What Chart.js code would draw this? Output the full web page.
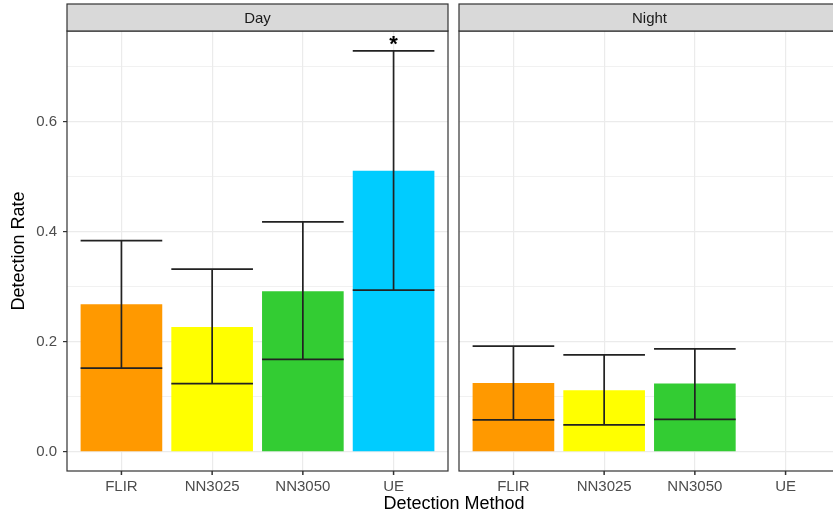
<!DOCTYPE html>
<html>
<head>
<meta charset="utf-8">
<script src="https://cdn.jsdelivr.net/npm/chart.js@4"></script>
<style>
  html, body { margin: 0; padding: 0; background: #fff; overflow: hidden; }
  #wrap { position: relative; width: 833px; height: 514px; overflow: hidden; }
  #day { position: absolute; left: 0; top: 0; }
  #night { position: absolute; left: 452px; top: 0; }
  #xtitle {
    position: absolute; left: 304px; top: 492px; width: 300px;
    text-align: center; font: 18px "Liberation Sans", Arial, sans-serif;
    line-height: 22px; color: #000;
  }
</style>
</head>
<body>
<div id="wrap">
  <canvas id="day" width="452" height="514"></canvas>
  <canvas id="night" width="392" height="514"></canvas>
  <div id="xtitle">Detection Method</div>
</div>
<script>
const methods = ["FLIR", "NN3025", "NN3050", "UE"];
const barColors = ["#FF9900", "#FFFF00", "#33CC33", "#00CCFF"];

const dayRate = [0.268, 0.227, 0.292, 0.511];
const dayLower = [0.152, 0.124, 0.168, 0.294];
const dayUpper = [0.384, 0.332, 0.418, 0.729];
const dayMarks = ["", "", "", "*"];

const nightRate = [0.125, 0.112, 0.124, null];
const nightLower = [0.058, 0.049, 0.059, null];
const nightUpper = [0.192, 0.176, 0.187, null];
const nightMarks = ["", "", "", ""];

const yTicks = [0, 0.1, 0.2, 0.3, 0.4, 0.5, 0.6, 0.7];
const yTickLabels = ["0.0", "", "0.2", "", "0.4", "", "0.6", ""];

Chart.defaults.font.family = '"Liberation Sans", Arial, sans-serif';

// strip, panel border, axis ticks, error bars and significance marks
const panelPlugin = {
  id: "panel",
  afterDatasetsDraw(chart, args, opts) {
    const ctx = chart.ctx;
    const x = chart.scales.x;
    const y = chart.scales.y;
    ctx.save();
    ctx.strokeStyle = "#222";
    ctx.lineWidth = 1.7;
    opts.lower.forEach((lo, i) => {
      const hi = opts.upper[i];
      if (lo == null || hi == null) return;
      const cx = x.getPixelForValue(i);
      const l = x.getPixelForValue(i - 0.45);
      const r = x.getPixelForValue(i + 0.45);
      const yl = y.getPixelForValue(lo);
      const yh = y.getPixelForValue(hi);
      ctx.beginPath();
      ctx.moveTo(cx, yl); ctx.lineTo(cx, yh);
      ctx.moveTo(l, yl); ctx.lineTo(r, yl);
      ctx.moveTo(l, yh); ctx.lineTo(r, yh);
      ctx.stroke();
      if (opts.marks[i]) {
        ctx.fillStyle = "#000";
        ctx.font = 'bold 22px "Liberation Sans", Arial, sans-serif';
        ctx.textAlign = "center";
        ctx.textBaseline = "middle";
        ctx.fillText(opts.marks[i], cx, yh - 6);
      }
    });
    ctx.restore();
  },
  afterDraw(chart, args, opts) {
    const ctx = chart.ctx;
    const a = chart.chartArea;
    const x = chart.scales.x;
    ctx.save();
    ctx.strokeStyle = "#333";
    ctx.lineWidth = 1.2;
    ctx.strokeRect(a.left, a.top, a.right - a.left, a.bottom - a.top);
    ctx.lineWidth = 1.5;
    ctx.beginPath();
    methods.forEach((m, i) => {
      const px = x.getPixelForValue(i);
      ctx.moveTo(px, a.bottom);
      ctx.lineTo(px, a.bottom + 4);
    });
    ctx.stroke();
    ctx.lineWidth = 1.2;
    ctx.fillStyle = "#d9d9d9";
    ctx.fillRect(a.left, 4, a.right - a.left, a.top - 4);
    ctx.strokeRect(a.left, 4, a.right - a.left, a.top - 4);
    ctx.fillStyle = "#1a1a1a";
    ctx.font = '15px "Liberation Sans", Arial, sans-serif';
    ctx.textAlign = "center";
    ctx.textBaseline = "middle";
    ctx.fillText(opts.name, (a.left + a.right) / 2, (4 + a.top) / 2 + 1);
    ctx.restore();
  }
};

function makeChart(id, name, rate, lower, upper, marks, showY) {
  const isMajor = (v) => Math.round(v * 10) % 2 === 0;
  return new Chart(document.getElementById(id), {
    type: "bar",
    data: {
      datasets: [{
        data: rate.map((v, i) => ({ x: i, y: v })),
        backgroundColor: barColors,
        borderWidth: 0,
        categoryPercentage: 1,
        barPercentage: 0.9
      }]
    },
    options: {
      responsive: false,
      animation: false,
      layout: { padding: showY ? { top: 31, right: 4, left: 0, bottom: 0 } : { top: 31, right: 4, left: 7, bottom: 0 } },
      scales: {
        x: {
          type: "linear",
          min: -0.6,
          max: 3.6,
          offset: false,
          afterBuildTicks: (s) => { s.ticks = methods.map((m, i) => ({ value: i })); },
          afterFit: (s) => { s.height = 43; },
          border: { display: false },
          grid: { offset: false, color: "#ebebeb", lineWidth: 1.2, drawTicks: true, tickColor: "rgba(0,0,0,0)", tickLength: 4 },
          ticks: {
            autoSkip: false, maxRotation: 0, padding: 3,
            color: "#4d4d4d", font: { size: 15 },
            callback: (v) => methods[Math.round(v)]
          }
        },
        y: {
          min: -0.035,
          max: 0.765,
          afterBuildTicks: (s) => { s.ticks = yTicks.map((v) => ({ value: v })); },
          afterFit: (s) => { s.width = showY ? 67 : 0; },
          border: { display: false },
          grid: {
            color: "#ebebeb",
            lineWidth: (c) => isMajor(c.tick.value) ? 1.2 : 0.7,
            drawTicks: showY,
            tickLength: 4,
            tickColor: (c) => isMajor(c.tick.value) ? "#333" : "rgba(0,0,0,0)"
          },
          ticks: {
            display: showY, padding: 6,
            color: "#4d4d4d", font: { size: 15 },
            callback: (v, i) => yTickLabels[i]
          },
          title: {
            display: showY, text: "Detection Rate",
            color: "#000", font: { size: 18 },
            padding: { top: 8, bottom: 0 }
          }
        }
      },
      plugins: {
        legend: { display: false },
        tooltip: { enabled: false },
        panel: { name: name, lower: lower, upper: upper, marks: marks }
      }
    },
    plugins: [panelPlugin]
  });
}

makeChart("day", "Day", dayRate, dayLower, dayUpper, dayMarks, true);
makeChart("night", "Night", nightRate, nightLower, nightUpper, nightMarks, false);
</script>
</body>
</html>
